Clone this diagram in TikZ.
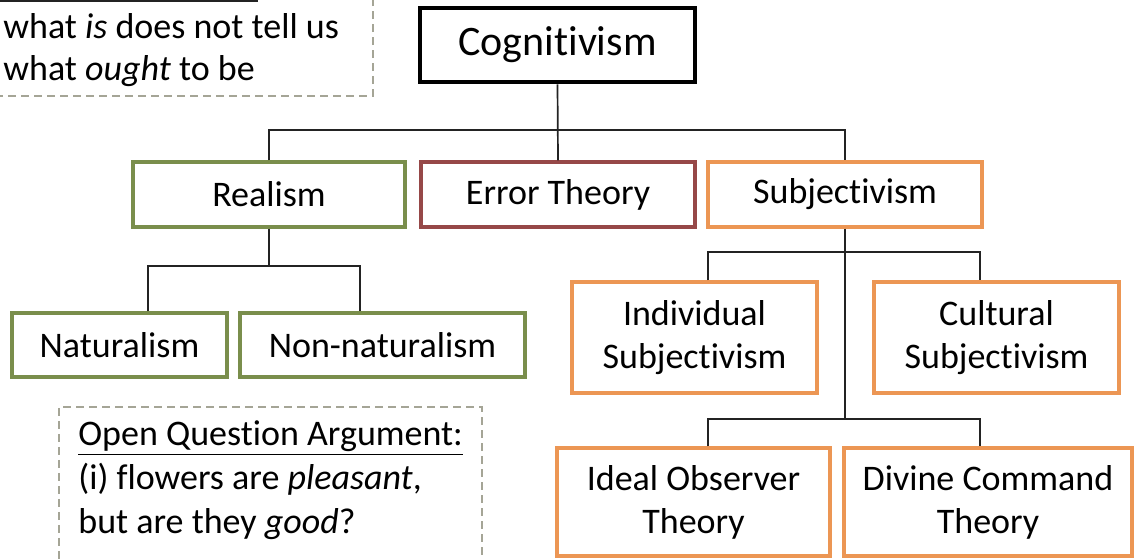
\documentclass[tikz,border=0pt]{standalone}
\usepackage{fontspec}
\setmainfont{Carlito}[Ligatures=NoCommon]
\usetikzlibrary{positioning}

\definecolor{realgreen}{RGB}{122,142,76}
\definecolor{errred}{RGB}{150,72,72}
\definecolor{subjorange}{RGB}{236,150,84}
\definecolor{notegray}{RGB}{165,165,150}
\definecolor{linkgray}{RGB}{35,35,35}

\tikzset{
  box/.style={draw, rectangle, align=center, inner sep=2pt,
    font=\fontsize{18}{21.6}\selectfont, line width=1.6pt},
  topbox/.style={box, draw=black, line width=2.4pt, font=\fontsize{21}{25}\selectfont},
  realbox/.style={box, draw=realgreen},
  errbox/.style={box, draw=errred},
  subjbox/.style={box, draw=subjorange},
  notebox/.style={draw=notegray, line width=0.8pt, dash pattern=on 4pt off 2.5pt},
  notetext/.style={align=left, inner sep=0pt, font=\fontsize{18}{21}\selectfont},
  link/.style={draw=linkgray, line width=0.85pt},
}

\begin{document}
\begin{tikzpicture}[x=0.5pt, y=-0.5pt]
      \useasboundingbox (0,0) rectangle (1134,559);
      \clip (0,0) rectangle (1134,559);
      %
      % notes
      \node[notebox, minimum width=202pt, minimum height=80pt, anchor=south east] (isbox) at (374,97) {};
      \draw[link] (0,1) -- (258,1);
      \node[notetext, anchor=north west] (isnote) at (3,13)
        {what \textit{is} does not tell us\\what \textit{ought} to be};
      %
      \node[notebox, minimum width=211.5pt, minimum height=90pt, anchor=north west] (oqabox) at (58,406) {};
      \node[notetext, anchor=north west, font=\fontsize{18}{22}\selectfont] (oqa) at (78,420)
        {\underline{Open Question Argument:}\\(i) flowers are \textit{pleasant},\\but are they \textit{good}?};
      %
      % top
      \node[topbox, minimum width=137.5pt, minimum height=37pt] (cog) at (557.5,45) {Cognitivism};
      %
      % second row
      \node[realbox, minimum width=136pt, minimum height=32.5pt] (real) at (269,194.5) {Realism};
      \node[errbox,  minimum width=137pt, minimum height=32.5pt] (err)  at (558,194.5) {Error Theory};
      \node[subjbox, minimum width=137pt, minimum height=32.5pt] (subj) at (845,194.5) {Subjectivism};
      %
      % realism
      \node[realbox, minimum width=107.5pt, minimum height=32pt] (nat)    at (119.5,345) {Naturalism};
      \node[realbox, minimum width=142.5pt, minimum height=32pt] (nonnat) at (382.5,345) {Non-naturalism};
      %
      % subjectivism
      \node[subjbox, minimum width=122.5pt, minimum height=55.5pt] (indiv) at (694.5,337.5) {Individual\\Subjectivism};
      \node[subjbox, minimum width=122.5pt, minimum height=55.5pt] (cult)  at (996.5,337.5) {Cultural\\Subjectivism};
      \node[subjbox, minimum width=136.5pt, minimum height=54pt]   (ideal) at (693.5,502) {Ideal Observer\\Theory};
      \node[subjbox, minimum width=144pt,   minimum height=54pt]   (div)   at (988,502)   {Divine Command\\Theory};
      %
      % connectors
      \coordinate (cogbus)   at (557,130);
      \coordinate (realbus)  at (269,266);
      \coordinate (subjbus)  at (845,252);
      \coordinate (theobus)  at (845,419);
      %
      \draw[link] (cog.south) -- (err.north);
      \draw[link] (real.north) |- (cogbus) -| (subj.north);
      \draw[link] (real.south) -- (realbus);
      \draw[link] (nat.north -| 148,0) |- (realbus) -| (nonnat.north -| 360,0);
      \draw[link] (subj.south) -- (theobus);
      \draw[link] (indiv.north -| 708,0) |- (subjbus) -| (cult.north -| 980,0);
      \draw[link] (ideal.north -| 708,0) |- (theobus) -| (div.north -| 980,0);
      %
    \end{tikzpicture}
\end{document}
